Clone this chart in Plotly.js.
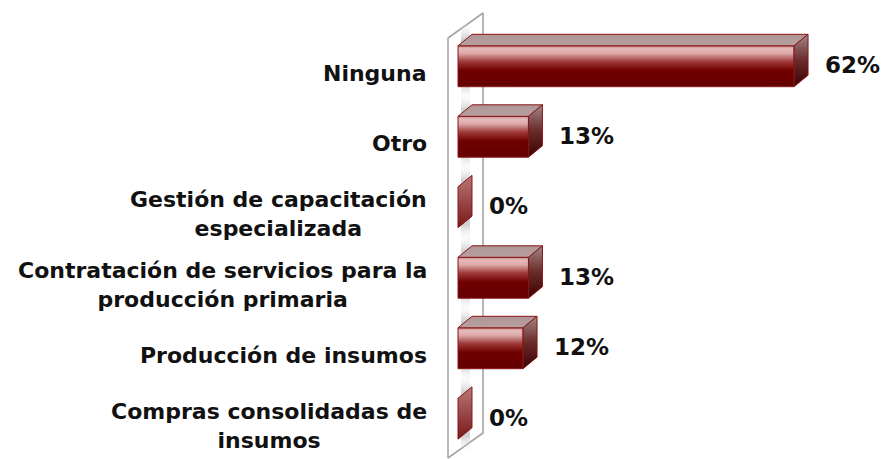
<!DOCTYPE html>
<html><head><meta charset="utf-8">
<script src="https://cdn.plot.ly/plotly-3.0.1.min.js"></script>
<style>html,body{margin:0;padding:0;background:#fff}</style>
</head><body><div id="chart" style="width:886px;height:459px"></div>
<script>
// ---- data (top to bottom) ----
const categories = [
  "Ninguna",
  "Otro",
  "Gestión de capacitación<br>especializada",
  "Contratación de servicios para la<br>producción primaria",
  "Producción de insumos",
  "Compras consolidadas de<br>insumos"
];
const values = [62, 13, 0, 13, 12, 0];
const valueLabels = ["62%", "13%", "0%", "13%", "12%", "0%"];

// ---- geometry / style ----
const W = 886, H = 459;
const pxPerX = 5.42, pxPerY = 70.5, zeroPx = 458, firstRowPx = 66.25;
const n = categories.length;
const xRange = [-zeroPx / pxPerX, (W - zeroPx) / pxPerX];
const yTop = (n - 1) + firstRowPx / pxPerY;
const yRange = [yTop - H / pxPerY, yTop];
const px2x = p => (p - zeroPx) / pxPerX;
const px2y = p => yTop - p / pxPerY;

const half = 0.29;             // half bar thickness (category units)
const dX = 14 / pxPerX;        // depth in x
const dY = 11.5 / pxPerY;      // depth in y

const edge = '#8a1515';
const frontScale = [[0,'#640000'],[0.4,'#700000'],[0.62,'#a03c3c'],[0.82,'#deaaaa'],[0.93,'#e6baba'],[1,'#c88c8c']];
const sideScale = [[0,'#3c0000'],[0.5,'#6a2a2a'],[1,'#a08888']];
const topScale = [[0,'#b8a0a0'],[1,'#b09696']];
const shadowScale = [[0,'rgba(255,255,255,0)'],[0.22,'rgba(170,170,170,0.55)'],[0.78,'rgba(170,170,170,0.55)'],[1,'rgba(255,255,255,0)']];

const traces = [];
// back wall
const wall = {x0: px2x(448), x1: px2x(483), tl: px2y(38), tr: px2y(13), bl: px2y(458), br: px2y(433)};
traces.push({type:'scatter', mode:'lines', hoverinfo:'skip', showlegend:false,
  x:[wall.x0, wall.x1, wall.x1, wall.x0, wall.x0],
  y:[wall.tl, wall.tr, wall.br, wall.bl, wall.tl],
  fill:'toself', fillcolor:'#ffffff', line:{color:'#a6a6a6', width:1.6}});

// soft shadows on the wall
values.forEach((v, i) => {
  const yc = (n - 1) - i;
  const s0 = px2x(461), s1 = px2x(470);
  const yb = yc - half - 0.2, yt = yc + half + dY + 0.18;
  traces.push({type:'scatter', mode:'lines', hoverinfo:'skip', showlegend:false,
    x:[s0, s1, s1, s0, s0], y:[yb, yb, yt, yt, yb], fill:'toself',
    fillgradient:{type:'vertical', colorscale:shadowScale},
    line:{width:0, color:'rgba(0,0,0,0)'}});
});

values.forEach((v, i) => {
  const yc = (n - 1) - i;
  const yb = yc - half, yt = yc + half;
  if (v > 0) {
    // front face
    traces.push({type:'scatter', mode:'lines', hoverinfo:'skip', showlegend:false,
      x:[0, v, v, 0, 0], y:[yb, yb, yt, yt, yb], fill:'toself',
      fillgradient:{type:'vertical', colorscale:frontScale},
      line:{color:edge, width:1}});
    // top face
    traces.push({type:'scatter', mode:'lines', hoverinfo:'skip', showlegend:false,
      x:[0, v, v + dX, dX, 0], y:[yt, yt, yt + dY, yt + dY, yt], fill:'toself',
      fillgradient:{type:'vertical', colorscale:topScale},
      line:{color:edge, width:1}});
  }
  // side face
  traces.push({type:'scatter', mode:'lines', hoverinfo:'skip', showlegend:false,
    x:[v, v + dX, v + dX, v, v], y:[yb, yb + dY, yt + dY, yt, yb], fill:'toself',
    fillgradient:{type:'vertical', colorscale: v > 0 ? sideScale : [[0,'#7a1818'],[1,'#b87878']]},
    line:{color:edge, width:1}});
});

const annotations = [];
categories.forEach((c, i) => {
  const yc = (n - 1) - i;
  annotations.push({x:0, y:yc, xref:'x', yref:'y', text:c, showarrow:false,
    xanchor:'right', yanchor:'middle', align:'center', xshift:-29, yshift:-7,
    font:{family:'DejaVu Sans', size:22, color:'#111111', weight:'bold'}});
  annotations.push({x:values[i], y:yc, xref:'x', yref:'y', text:valueLabels[i], showarrow:false,
    xanchor:'left', yanchor:'middle', xshift:29, yshift:1,
    font:{family:'DejaVu Sans', size:23, color:'#111111', weight:'bold'}});
});

const layout = {
  width: W, height: H,
  margin: {l:0, r:0, t:0, b:0},
  paper_bgcolor:'#ffffff', plot_bgcolor:'#ffffff',
  showlegend:false,
  xaxis:{range:xRange, visible:false, fixedrange:true},
  yaxis:{range:yRange, visible:false, fixedrange:true},
  annotations: annotations
};
Plotly.newPlot('chart', traces, layout, {displayModeBar:false, staticPlot:true});
</script>
</body></html>
